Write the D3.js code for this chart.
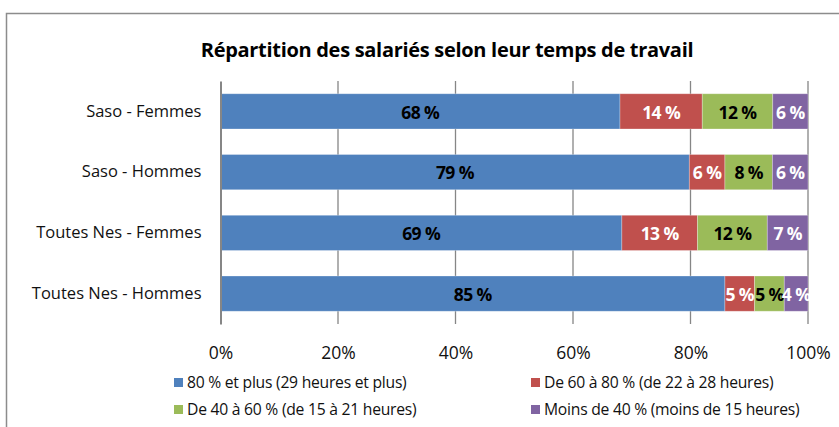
<!DOCTYPE html>
<html>
<head>
<meta charset="utf-8">
<script src="https://cdn.jsdelivr.net/npm/d3@7"></script>
<style>
  body { margin: 0; background: #fff; }
  svg text { font-family: "Open Sans", sans-serif; }
</style>
</head>
<body>
<svg></svg>
<script>
// Define variables
const width = 839;
const height = 427;

const categories = ['Saso - Femmes', 'Saso - Hommes', 'Toutes Nes - Femmes', 'Toutes Nes - Hommes'];
const seriesNames = [
    '80 % et plus (29 heures et plus)',
    'De 60 à 80 % (de 22 à 28 heures)',
    'De 40 à 60 % (de 15 à 21 heures)',
    'Moins de 40 % (moins de 15 heures)'
];
const plus80 = [68, 79, 69, 85];
const de60a80 = [14, 6, 13, 5];
const de40a60 = [12, 8, 12, 5];
const moins40 = [6, 6, 7, 4];
const xTicks = [0, 0.2, 0.4, 0.6, 0.8, 1];

const colors = ['#4f81bd', '#c0504d', '#9bbb59', '#8064a2'];
const labelColors = ['#000', '#fff', '#000', '#fff'];

const svg = d3.select('svg')
                .attr('width', width)
                .attr('height', height)

// chart frame
svg.append('rect')
    .attr('x', 6.5).attr('y', 13.5)
    .attr('width', 900).attr('height', 500)
    .attr('fill', 'none')
    .attr('stroke', '#8c8c8c')
    .attr('stroke-width', 1.5)

svg.append('text')
    .attr('x', 447)
    .attr('y', 57)
    .attr('text-anchor', 'middle')
    .attr('font-size', 20)
    .attr('font-weight', 'bold')
    .attr('letter-spacing', -0.3)
    .attr('fill', '#000')
    .text('Répartition des salariés selon leur temps de travail')

let table = categories.map((c, i) => ({
    cat: c, s0: plus80[i], s1: de60a80[i], s2: de40a60[i], s3: moins40[i]
}))
const keys = ['s0', 's1', 's2', 's3']

let stacked = d3.stack().keys(keys).offset(d3.stackOffsetExpand)(table)

let xScale = d3.scaleLinear().domain([0, 1]).range([220.5, 808])
let yScale = d3.scaleBand().domain(categories).range([81, 324])
                .paddingInner(0.42).paddingOuter(0.21)

// gridlines
svg.append('g')
    .selectAll('line')
    .data(xTicks.slice(1))
    .enter()
    .append('line')
    .attr('x1', d => xScale(d)).attr('x2', d => xScale(d))
    .attr('y1', 81).attr('y2', 324)
    .attr('stroke', '#868686')
    .attr('stroke-width', 1.3)

// bars
let groups = svg.append('g')
    .selectAll('g')
    .data(stacked)
    .enter()
    .append('g')
    .attr('fill', (d, i) => colors[i])

groups.selectAll('rect')
    .data(d => d)
    .enter()
    .append('rect')
    .attr('x', d => xScale(d[0]))
    .attr('width', d => xScale(d[1]) - xScale(d[0]))
    .attr('y', d => yScale(d.data.cat))
    .attr('height', yScale.bandwidth())
    .attr('stroke', 'rgba(255,255,255,0.35)')
    .attr('stroke-width', 0.8)

// value labels
stacked.forEach((s, si) => {
    svg.append('g')
        .selectAll('text')
        .data(s)
        .enter()
        .append('text')
        .attr('x', d => (xScale(d[0]) + xScale(d[1])) / 2)
        .attr('y', d => yScale(d.data.cat) + yScale.bandwidth() / 2 + 1)
        .attr('dy', '0.36em')
        .attr('text-anchor', 'middle')
        .attr('font-size', 17.5)
        .attr('font-weight', 'bold')
        .attr('letter-spacing', -0.6)
        .attr('fill', labelColors[si])
        .text(d => d.data[s.key] + ' %')
})

// y axis
let yAxis = d3.axisLeft(yScale).tickSize(0).tickPadding(19)
let yg = svg.append('g')
    .attr('transform', 'translate(220.5, 0)')
    .call(yAxis)
yg.select('.domain').attr('stroke', '#868686').attr('stroke-width', 2)
yg.selectAll('text')
    .attr('font-size', 16.5)
    .attr('fill', '#111')

// x axis (labels only)
let xAxis = d3.axisBottom(xScale)
                .tickValues(xTicks)
                .tickFormat(d3.format('.0%'))
                .tickSize(0)
                .tickPadding(0)
let xg = svg.append('g')
    .attr('transform', 'translate(0, 347)')
    .call(xAxis)
xg.select('.domain').remove()
xg.selectAll('text')
    .attr('font-size', 17.5)
    .attr('fill', '#111')

// legend
const legendPos = [[174, 383], [531, 383], [174, 410], [531, 410]]
let legend = svg.append('g')
    .selectAll('g')
    .data(seriesNames)
    .enter()
    .append('g')
    .attr('transform', (d, i) => 'translate(' + legendPos[i][0] + ',' + legendPos[i][1] + ')')
legend.append('rect')
    .attr('x', 0).attr('y', -5)
    .attr('width', 9).attr('height', 9)
    .attr('fill', (d, i) => colors[i])
legend.append('text')
    .attr('x', 13)
    .attr('dy', '0.33em')
    .attr('font-size', 15.7)
    .attr('letter-spacing', -0.25)
    .attr('fill', '#111')
    .text(d => d)
</script>
</body>
</html>
